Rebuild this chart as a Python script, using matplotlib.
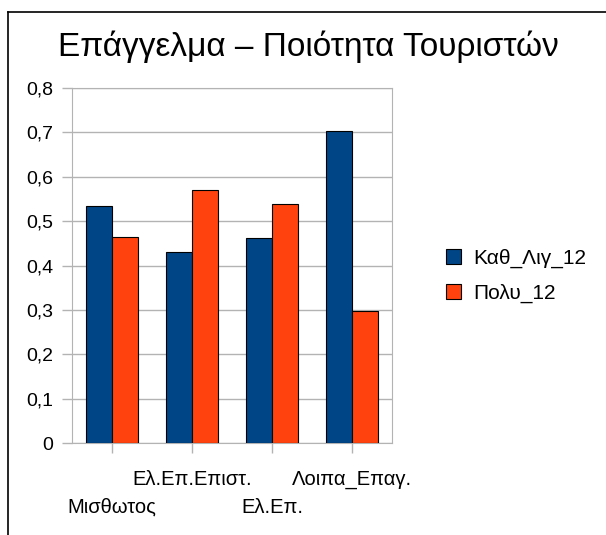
import matplotlib
matplotlib.use("Agg")
import matplotlib.pyplot as plt
import numpy as np
from matplotlib.lines import Line2D

plt.rcParams["font.family"] = ["Liberation Sans", "DejaVu Sans"]

# Δεδομένα
categories = ["Μισθωτος", "Ελ.Επ.Επιστ.", "Ελ.Επ.", "Λοιπα_Επαγ."]
kath_lig_12 = [0.535, 0.43, 0.462, 0.703]
poly_12 = [0.465, 0.57, 0.538, 0.297]
series_names = ["Καθ_Λιγ_12", "Πολυ_12"]
y_ticks = [0, 0.1, 0.2, 0.3, 0.4, 0.5, 0.6, 0.7, 0.8]
y_tick_labels = ["0", "0,1", "0,2", "0,3", "0,4", "0,5", "0,6", "0,7", "0,8"]

W, H = 606, 535
fig = plt.figure(figsize=(W / 100, H / 100), dpi=100)

# πλαίσιο (αριστερά και πάνω)
fig.add_artist(Line2D([8 / W, 8 / W], [0, 1 - 12 / H], color="black", lw=1.2))
fig.add_artist(Line2D([8 / W, 1], [1 - 12 / H, 1 - 12 / H], color="black", lw=1.2))

ax = fig.add_axes([72 / W, (H - 443.3) / H, 320 / W, 355.3 / H])

x = np.arange(len(categories))
bw = 0.33
ax.bar(x - bw / 2, kath_lig_12, bw, color="#004586", edgecolor="black", linewidth=0.8,
       label=series_names[0], zorder=3)
ax.bar(x + bw / 2, poly_12, bw, color="#ff420e", edgecolor="black", linewidth=0.8,
       label=series_names[1], zorder=3)

ax.set_xlim(-0.5, len(categories) - 0.5)
ax.set_ylim(0, 0.8)
ax.set_yticks(y_ticks)
ax.set_yticklabels(y_tick_labels)
ax.set_xticks(x)
ax.set_xticklabels(categories)

ax.yaxis.grid(True, color="#b3b3b3", linewidth=1, zorder=0)
for s in ax.spines.values():
    s.set_color("#b3b3b3")
ax.tick_params(axis="both", colors="#b3b3b3", labelcolor="black",
               length=7.2, width=1)
ax.tick_params(axis="y", pad=6.5, labelsize=14)
ax.tick_params(axis="x", labelsize=14.5)

# κλιμακωτές ετικέτες στον άξονα x
for i, t in enumerate(ax.xaxis.get_major_ticks()):
    t.set_pad(32 if i % 2 == 0 else 12)

fig.text(308 / W, 1 - 47 / H, "Επάγγελμα – Ποιότητα Τουριστών", fontsize=24,
         ha="center", va="center")

fig.legend(loc="center left", bbox_to_anchor=(427 / W, 1 - 276 / H), frameon=False,
           fontsize=15, handlelength=0.75, handleheight=0.75, handletextpad=0.55,
           labelspacing=0.75)

fig.savefig("out.png", dpi=100)
